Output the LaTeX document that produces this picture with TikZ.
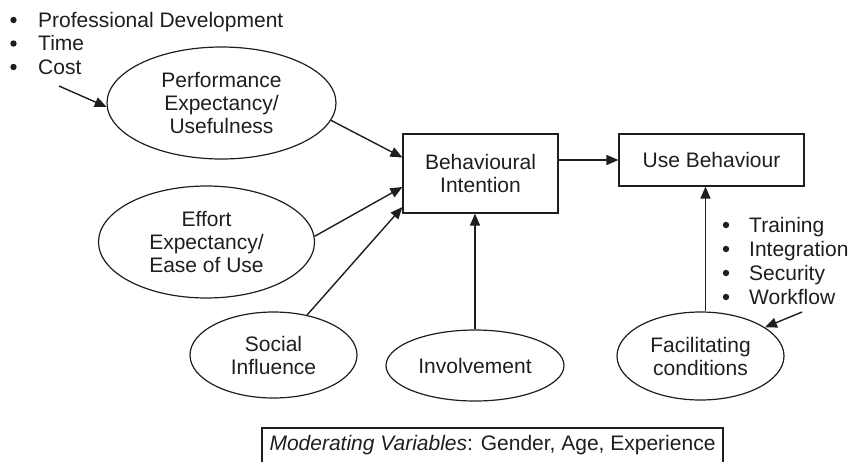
\documentclass[tikz,border=0pt]{standalone}
\usepackage{fontspec}
\setmainfont{Liberation Sans}
\usetikzlibrary{shapes.geometric,arrows.meta}
\definecolor{ink}{HTML}{1E1E1E}
\begin{document}
\begin{tikzpicture}[x=1pt,y=-1pt,
  every node/.style={text=ink,font=\fontsize{21}{23}\selectfont},
  oval/.style={draw=ink,line width=1.2pt,ellipse,inner sep=0pt,align=center},
  boxnode/.style={draw=ink,line width=1.2pt,rectangle,inner sep=0pt,align=center},
  arr/.style={draw=ink,line width=1.4pt,-{Triangle[length=12pt,width=10pt]}},
  item/.style={anchor=base west,inner sep=0pt},
  dot/.style={fill=ink}]
\useasboundingbox (0,0) rectangle (850,461);

% top-left list
\node[item] (l1) at (38,27) {Professional Development};
\node[item] (l2) at (38,50.5) {Time};
\node[item] (l3) at (38,74) {Cost};
\foreach \n in {l1,l2,l3} \fill[dot] (\n.base west) ++(-24.5,-7) circle (3.2pt);
\coordinate (costfrom) at (59,86);

% ellipses
\node[oval,minimum width=229pt,minimum height=112pt] (perf) at (221.5,103) {Performance\\Expectancy/\\Usefulness};
\node[oval,minimum width=216pt,minimum height=112pt] (eff) at (206.5,242) {Effort\\Expectancy/\\Ease of Use};
\node[oval,minimum width=167pt,minimum height=86pt] (soc) at (273.5,355) {Social\\Influence};
\node[oval,minimum width=178pt,minimum height=71pt] (inv) at (475,365.5) {Involvement};
\node[oval,minimum width=167pt,minimum height=88pt] (fc) at (700.5,356) {Facilitating\\conditions};

% boxes
\node[boxnode,minimum width=155pt,minimum height=79pt] (bi) at (480.5,173.5) {Behavioural\\Intention};
\node[boxnode,minimum width=185pt,minimum height=52pt] (ub) at (711.5,160) {Use Behaviour};

% right list
\node[item] (r1) at (749,232) {Training};
\node[item] (r2) at (749,256) {Integration};
\node[item] (r3) at (749,280) {Security};
\node[item] (r4) at (749,304) {Workflow};
\foreach \n in {r1,r2,r3,r4} \fill[dot] (\n.base west) ++(-23,-7) circle (3.2pt);
\coordinate (wffrom) at (802,312);

% moderating variables
\node[anchor=base,inner sep=0pt] (mod) at (492.5,450) {\textit{Moderating Variables}: Gender, Age, Experience};
\draw[ink,line width=1.1pt] (262,428) rectangle (723,480);

% connectors
\draw[arr] (costfrom) -- (perf.182);
\draw[arr] (perf.-9) -- ([yshift=16pt]bi.west);
\draw[arr] (eff.3) -- ([yshift=-13.5pt]bi.west);
\draw[arr] (soc.50) -- ([yshift=-33.5pt]bi.west);
\draw[arr] (inv.north) -- (inv.north |- bi.south);
\draw[arr] (ub.west -| bi.east) -- (ub.west);
\draw[arr] ([xshift=5pt]fc.north) -- ([xshift=5pt]fc.north |- ub.south);
\draw[arr] (wffrom) -- (fc.24);
\end{tikzpicture}
\end{document}
